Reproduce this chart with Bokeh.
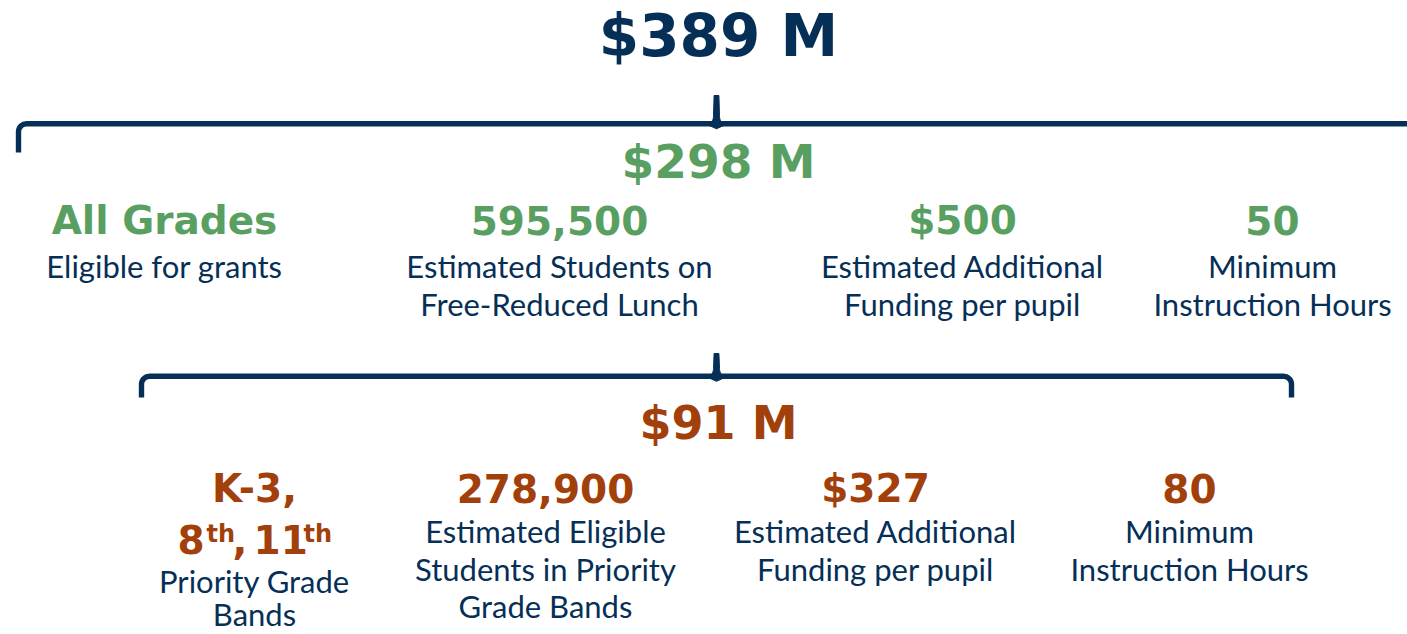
import numpy as np
from bokeh.plotting import figure
from bokeh.models import Range1d
from bokeh.core.properties import value
from bokeh.embed import file_html
from bokeh.resources import INLINE

NAVY = "#062F57"
GREEN = "#5A9F62"
ORANGE = "#A2400C"

# ---- data ----
total_label = "$389 M"
tier1_label = "$298 M"
tier2_label = "$91 M"

tier1_heads = ["All Grades", "595,500", "$500", "50"]
tier1_desc = [["Eligible for grants"],
              ["Estimated Students on", "Free-Reduced Lunch"],
              ["Estimated Additional", "Funding per pupil"],
              ["Minimum", "Instruction Hours"]]

tier2_heads = ["K-3,", "278,900", "$327", "80"]
tier2_grade_parts = ["8", "th", ",", "11", "th"]
tier2_desc = [["Priority Grade", "Bands"],
              ["Estimated Eligible", "Students in Priority", "Grade Bands"],
              ["Estimated Additional", "Funding per pupil"],
              ["Minimum", "Instruction Hours"]]

# ---- layout ----
W, H = 1407, 634
p = figure(width=W, height=H, x_range=Range1d(0, W), y_range=Range1d(H, 0),
           output_backend="svg", toolbar_location=None, min_border=0,
           x_axis_type=None, y_axis_type=None)
p.grid.visible = False
p.outline_line_color = None
p.background_fill_color = "white"

HEAVY = value("DejaVu Sans")
LIGHT = value("Lato")
SHIFT = 0.37  # baseline correction, fraction of font size


def _adj(y, size):
    px = float(size.replace("px", ""))
    return [v - SHIFT * px for v in y]


def heavy(x, y, t, size, color, align="center"):
    p.text(x=x, y=_adj(y, size), text=t, text_font=HEAVY, text_font_style="bold",
           text_font_size=size, text_color=color, text_align=align,
           text_baseline="alphabetic")


def light(x, y, t, size="31px"):
    p.text(x=x, y=_adj(y, size), text=t, text_font=LIGHT, text_font_size=size,
           text_color=NAVY, text_align="center", text_baseline="alphabetic")


def arc(cx, cy, r, a0, a1, n=14):
    a = np.radians(np.linspace(a0, a1, n))
    return list(cx + r * np.cos(a)), list(cy + r * np.sin(a))


def peak(xc, yl, ytop, hw=3.0, fl=11.0):
    t = np.linspace(0, 1, 12)
    p0 = np.array([xc - fl, yl]); c = np.array([xc - hw, yl]); p2 = np.array([xc - hw, yl - 8])
    left = [(1 - s) ** 2 * p0 + 2 * (1 - s) * s * c + s ** 2 * p2 for s in t]
    p0r = np.array([xc + hw, yl - 8]); cr = np.array([xc + hw, yl]); p2r = np.array([xc + fl, yl])
    right = [(1 - s) ** 2 * p0r + 2 * (1 - s) * s * cr + s ** 2 * p2r for s in t]
    xs = [q[0] for q in left] + [xc - hw, xc - hw * 0.8, xc + hw * 0.8, xc + hw] + [q[0] for q in right] + [xc]
    ys = [q[1] for q in left] + [yl - 8, ytop, ytop, yl - 8] + [q[1] for q in right] + [yl + 5]
    p.patch(xs, ys, fill_color=NAVY, line_color=NAVY, line_width=1)


LW = 5.4
R = 8
# top brace
yl1 = 123.3
ax, ay = arc(18 + R, yl1 + R, R, 180, 270)
p.line([18, 18] + ax + [1420], [152, yl1 + R] + ay + [yl1], line_color=NAVY, line_width=LW)
peak(716, yl1, 95)

# lower brace
yl2 = 375.8
lx, ly = arc(141 + R, yl2 + R, R, 180, 270)
rx, ry = arc(1291 - R, yl2 + R, R, 270, 360)
p.line([141, 141] + lx + rx + [1291, 1291], [397, yl2 + R] + ly + ry + [yl2 + R, 397],
       line_color=NAVY, line_width=LW)
peak(716, yl2, 353)

# headline totals
heavy([718], [57], [total_label], "58px", NAVY)
heavy([718], [178], [tier1_label], "47px", GREEN)
heavy([718], [440], [tier2_label], "46px", ORANGE)

# tier 1 columns
t1_x = [164, 559, 962, 1272]
heavy(t1_x, [234] * 4, tier1_heads, "39px", GREEN)
t1_base = [277, 315]
for cx, lines in zip(t1_x, tier1_desc):
    light([cx] * len(lines), t1_base[:len(lines)], lines)

# tier 2 columns
t2_x = [254, 545, 875, 1189]
heavy(t2_x, [502] * 4, tier2_heads, "39px", ORANGE)
# "8th, 11th" line with superscripts
gx = [177, 206, 232, 253, 303]
gy = [553, 542, 553, 553, 542]
gs = ["39px", "24px", "39px", "39px", "24px"]
for x, y, t, s in zip(gx, gy, tier2_grade_parts, gs):
    heavy([x], [y], [t], s, ORANGE, align="left")

t2_base = {0: [592, 625], 1: [542, 580, 617], 2: [542, 580], 3: [542, 580]}
for i, (cx, lines) in enumerate(zip(t2_x, tier2_desc)):
    light([cx] * len(lines), t2_base[i], lines)

open("out.html", "w").write(file_html(p, INLINE))
